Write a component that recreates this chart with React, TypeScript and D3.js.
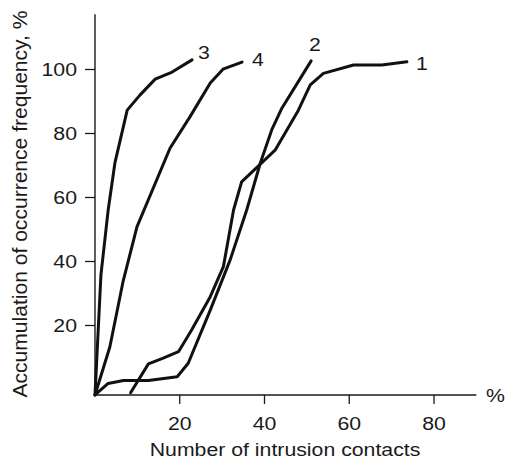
import React from "react";
import * as d3 from "d3";

// values (x: intrusion contacts %, y: accumulated frequency %)
const curve1X = [8.4, 12.6, 16.1, 19.7, 22.8, 27.2, 30.3, 32.7, 34.6, 42.5, 48.0, 50.8, 53.9, 61.0, 67.7, 73.6];
const curve1Y = [-1.0, 8.0, 9.8, 11.8, 18.6, 29.0, 38.4, 56.1, 64.9, 74.8, 87.3, 95.2, 98.8, 101.4, 101.4, 102.4];

const curve2X = [0, 3.1, 6.7, 12.6, 19.4, 22.0, 27.2, 31.9, 35.8, 39.0, 41.7, 44.1, 51.0];
const curve2Y = [-1.7, 1.9, 2.8, 2.8, 4.0, 8.2, 24.8, 40.5, 56.1, 70.7, 81.1, 87.9, 102.7];

const curve3X = [0, 1.4, 3.1, 4.7, 7.6, 10.6, 14.2, 18.2, 22.9];
const curve3Y = [-1.7, 35.8, 56.0, 70.8, 87.3, 92.0, 97.0, 99.2, 103.0];

const curve4X = [0, 3.5, 6.6, 9.9, 17.7, 22.4, 27.2, 30.2, 34.7];
const curve4Y = [-1.7, 13.3, 33.6, 50.8, 75.4, 85.2, 95.8, 100.1, 102.3];

const curveNames = ["1", "2", "3", "4"];
const xTicks = [20, 40, 60, 80];
const yTicks = [20, 40, 60, 80, 100];

const font = "'Liberation Sans', Arial, Helvetica, sans-serif";

const zip = (xs: number[], ys: number[]) => xs.map((x, i) => [x, ys[i]] as [number, number]);

const StretchText = ({ x, y, anchor, size, children }: any) => (
  <text
    transform={`translate(${x},${y}) scale(1.15,1)`}
    textAnchor={anchor || "start"}
    fontSize={size}
    fontFamily={font}
    fill="#1a1a1a"
  >
    {children}
  </text>
);

export default function App() {
  const width = 507;
  const height = 461;

  const x = d3.scaleLinear().domain([0, 80]).range([95, 434]);
  const y = d3.scaleLinear().domain([0, 100]).range([389.5, 69.5]);

  const yBase = y(-1.7);
  const xEnd = x(90);
  const yTop = y(117.3);

  const line = d3
    .line<[number, number]>()
    .x((d) => x(d[0]))
    .y((d) => y(d[1]));

  const curves = [zip(curve1X, curve1Y), zip(curve2X, curve2Y), zip(curve3X, curve3Y), zip(curve4X, curve4Y)];
  // label offsets from each curve's last point
  const labelOff = [[9, 8], [-2, -10], [6, -1], [10, 4]];

  return (
    <svg width={width} height={height} style={{ position: "absolute", left: 0, top: 0, background: "#fff" }}>
      {/* axes */}
      <line x1={x(0)} x2={x(0)} y1={yTop} y2={yBase} stroke="#1a1a1a" strokeWidth={1.4} />
      <line x1={x(0)} x2={xEnd} y1={yBase} y2={yBase} stroke="#1a1a1a" strokeWidth={1.4} />

      {yTicks.map((t) => (
        <g key={"y" + t}>
          <line x1={x(0) - 10} x2={x(0)} y1={y(t)} y2={y(t)} stroke="#1a1a1a" strokeWidth={1.3} />
          <StretchText x={77} y={y(t) + 6.5} anchor="end" size={18.5}>
            {t}
          </StretchText>
        </g>
      ))}

      {xTicks.map((t) => (
        <g key={"x" + t}>
          <line x1={x(t)} x2={x(t)} y1={yBase} y2={yBase + 9} stroke="#1a1a1a" strokeWidth={1.3} />
          <StretchText x={x(t)} y={430} anchor="middle" size={18.5}>
            {t}
          </StretchText>
        </g>
      ))}

      <StretchText x={486} y={401.5} size={18.5}>
        %
      </StretchText>

      <StretchText x={285} y={456} anchor="middle" size={18.5}>
        Number of intrusion contacts
      </StretchText>

      <text
        transform={`translate(27,204) rotate(-90)`}
        textAnchor="middle"
        fontSize={20}
        fontFamily={font}
        fill="#1a1a1a"
        textLength={387}
        lengthAdjust="spacingAndGlyphs"
      >
        Accumulation of occurrence frequency, %
      </text>

      {/* curves */}
      {curves.map((c, i) => {
        const last = c[c.length - 1];
        return (
          <g key={"c" + i}>
            <path d={line(c) || ""} fill="none" stroke="#111" strokeWidth={3} strokeLinejoin="round" strokeLinecap="round" />
            <StretchText x={x(last[0]) + labelOff[i][0]} y={y(last[1]) + labelOff[i][1]} size={18.5}>
              {curveNames[i]}
            </StretchText>
          </g>
        );
      })}
    </svg>
  );
}
